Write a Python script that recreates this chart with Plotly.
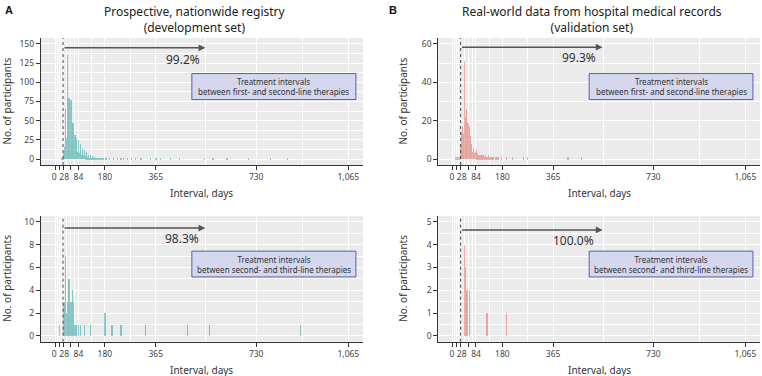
import plotly.graph_objects as go

# ---------------- data ----------------
# Panel A top: counts per day for days 20..160, plus sparse later days
a1_start_day = 20
a1_counts = [0, 1, 0, 1, 0, 1, 2, 2,            # 20-27
             4, 6, 8, 10, 12, 14, 16,           # 28-34
             65, 22, 20, 24, 21, 25, 27,        # 35-41
             135, 26, 24, 27, 23, 25, 26,       # 42-48
             80, 24, 22, 25, 21, 23, 28,        # 49-55
             77, 20, 19, 21, 18, 17, 22,        # 56-62
             47, 16, 15, 14, 16, 13, 18,        # 63-69
             32, 12, 11, 13, 10, 11, 14,        # 70-76
             27, 10, 9, 8, 9, 8, 11,            # 77-83
             25, 7, 8, 6, 7, 6, 9,              # 84-90
             20, 6, 5, 6, 5, 4, 7,              # 91-97
             15, 5, 4, 4, 3, 4, 5,              # 98-104
             12, 3, 3, 4, 2, 3, 4,              # 105-111
             9, 3, 2, 2, 3, 2, 3,               # 112-118
             6, 2, 2, 1, 2, 2, 2,               # 119-125
             5, 1, 2, 1, 1, 2, 1,               # 126-132
             4, 1, 1, 1, 2, 1, 1,               # 133-139
             3, 1, 1, 0, 1, 1, 2, 1, 1, 0, 1,   # 140-150
             1, 1, 0, 1, 0, 1, 1, 0, 1, 1]      # 151-160
a1_extra_days = [163, 168, 175, 182, 186, 196, 210, 224, 238, 247, 260, 275, 290,
                 310, 344, 365, 380, 417, 450, 541, 572, 623, 700, 780, 843]
a1_extra_counts = [1, 1, 1, 2, 1, 1, 1, 1, 1, 1, 1, 1, 1,
                   1, 1, 1, 1, 1, 1, 1, 1, 1, 1, 1, 1]

# Panel A bottom
a2_days = [13, 28, 29, 30, 31, 32, 33, 34, 35, 36, 37, 38, 39, 40, 41, 42, 43, 44, 45,
           46, 47, 48, 49, 50, 51, 52, 53, 54, 55, 56, 57, 58, 59, 60, 61, 62, 63, 64,
           65, 66, 67, 68, 70, 72, 76, 84, 90, 106, 127, 179, 203, 206, 238, 326, 479,
           559, 890]
a2_counts = [1, 1, 3, 3, 2, 3, 1, 1, 7, 3, 1, 1, 1, 2, 1, 3, 1, 1, 1,
             2, 1, 1, 5, 1, 1, 1, 1, 1, 3, 3, 1, 1, 2, 1, 1, 4, 3, 1,
             1, 3, 1, 1, 1, 1, 1, 1, 1, 1, 1, 2, 1, 1, 1, 1, 1,
             1, 1]

# Panel B top: counts per day for days 28..150, plus sparse other days
b1_start_day = 28
b1_counts = [2, 5, 8, 10, 9, 12, 14,            # 28-34
             17, 8, 10, 9, 11, 12, 13,          # 35-41
             51, 10, 8, 9, 22, 9, 11,           # 42-48
             14, 26, 8, 9, 7, 10, 8,            # 49-55
             19, 7, 6, 8, 7, 9, 17,             # 56-62
             12, 6, 5, 7, 4, 5, 6,              # 63-69
             8, 4, 3, 4, 3, 3, 4,               # 70-76
             6, 2, 3, 2, 2, 3, 2,               # 77-83
             4, 2, 5, 2, 1, 2, 2,               # 84-90
             3, 1, 2, 2, 1, 2, 1, 2, 2, 1,      # 91-100
             2, 1, 1, 2, 1, 1, 2, 1, 1, 0, 1, 1, 2, 1, 1, 0, 1, 1, 0, 2, 1, 1, 0, 1, 1,
             0, 1, 0, 1, 2, 1, 0, 1, 1, 0, 1, 0, 1, 0, 1, 1, 0, 1, 0, 0, 1, 0, 1, 0, 1]
b1_extra_days = [12, 20, 24, 26, 158, 165, 178, 197, 217, 258, 273, 420, 469]
b1_extra_counts = [1, 1, 1, 1, 1, 1, 1, 1, 1, 1, 1, 1, 1]

# Panel B bottom
b2_days = [42, 44, 45, 46, 47, 48, 49, 50, 52, 55, 61, 125, 195]
b2_counts = [4, 3, 3, 1, 3, 2, 2, 1, 2, 2, 2, 1, 1]

x_tickvals = [0, 14, 28, 56, 84, 180, 365, 730, 1065]
x_ticktext = ["0\u00a0", "", "\u00a028", "", "84", "180", "365", "730", "1,065"]
x_minor = [7, 21, 42, 70, 132, 272.5, 547.5, 897.5]

titles = ["Prospective, nationwide registry<br>(development set)",
          "Real-world data from hospital medical records<br>(validation set)"]
panel_letters = ["A", "B"]
percent_labels = ["99.2%", "98.3%", "99.3%", "100.0%"]
box_labels = ["Treatment intervals<br>between first- and second-line therapies",
              "Treatment intervals<br>between second- and third-line therapies"]
cutoff_day = 28
arrow_end_day = 545

# ---------------- figure ----------------
W, H = 762, 376
TEAL = "#1f9d9b"
RED = "#e0625a"
FONT = "Noto Sans, Liberation Sans, sans-serif"
TICKFONT = "Noto Sans, Liberation Sans, sans-serif"

a1_days = list(range(a1_start_day, a1_start_day + len(a1_counts))) + a1_extra_days
a1_all = a1_counts + a1_extra_counts
b1_days = list(range(b1_start_day, b1_start_day + len(b1_counts))) + b1_extra_days
b1_all = b1_counts + b1_extra_counts

panels = [
    dict(x=a1_days, y=a1_all, color=TEAL, xa="x", ya="y", xd=(40.7, 363.0), yd=(38, 165),
         yr=[-7.5, 157.5], yticks=[0, 25, 50, 75, 100, 125, 150], yminor=[12.5, 37.5, 62.5, 87.5, 112.5, 137.5],
         ay=144.7, px=463, py=130, pct=percent_labels[0], box=box_labels[0]),
    dict(x=a2_days, y=a2_counts, color=TEAL, xa="x2", ya="y2", xd=(40.7, 363.0), yd=(216, 341.7),
         yr=[-0.5, 10.5], yticks=[0, 2, 4, 6, 8, 10], yminor=[1, 3, 5, 7, 9],
         ay=9.45, px=461, py=8.5, pct=percent_labels[1], box=box_labels[1]),
    dict(x=b1_days, y=b1_all, color=RED, xa="x3", ya="y3", xd=(438.3, 760.0), yd=(38, 165),
         yr=[-3, 63], yticks=[0, 20, 40, 60], yminor=[10, 30, 50],
         ay=58.2, px=459, py=52.7, pct=percent_labels[2], box=box_labels[0]),
    dict(x=b2_days, y=b2_counts, color=RED, xa="x4", ya="y4", xd=(438.3, 760.0), yd=(216, 341.7),
         yr=[-0.25, 5.25], yticks=[0, 1, 2, 3, 4, 5], yminor=[0.5, 1.5, 2.5, 3.5, 4.5],
         ay=4.64, px=439, py=4.17, pct=percent_labels[3], box=box_labels[1]),
]

fig = go.Figure()
layout = dict(width=W, height=H, margin=dict(l=0, r=0, t=0, b=0),
              paper_bgcolor="white", plot_bgcolor="#ebebeb", showlegend=False,
              barmode="overlay", bargap=0,
              font=dict(family=FONT, color="#333333"))
annotations = []
shapes = []

for i, p in enumerate(panels):
    fig.add_trace(go.Bar(x=p["x"], y=p["y"], width=1, xaxis=p["xa"], yaxis=p["ya"],
                         marker=dict(color=p["color"], line=dict(width=0)), opacity=0.5,
                         hoverinfo="x+y"))
    xkey = "xaxis" + ("" if p["xa"] == "x" else p["xa"][1:])
    ykey = "yaxis" + ("" if p["ya"] == "y" else p["ya"][1:])
    layout[xkey] = dict(domain=[p["xd"][0] / W, p["xd"][1] / W], anchor=p["ya"],
                        range=[-53.25, 1118.25], tickmode="array", tickvals=x_tickvals,
                        ticktext=x_ticktext, tickangle=0, ticks="outside", ticklen=4,
                        tickcolor="#333333", tickwidth=1,
                        tickfont=dict(size=8.5, color="#444444", family=TICKFONT),
                        showline=True, linecolor="#333333", linewidth=1,
                        showgrid=True, gridcolor="white", gridwidth=1, zeroline=False,
                        minor=dict(tickvals=x_minor, showgrid=True, gridcolor="white",
                                   gridwidth=0.5, ticks=""))
    layout[ykey] = dict(domain=[1 - p["yd"][1] / H, 1 - p["yd"][0] / H], anchor=p["xa"],
                        range=p["yr"], tickmode="array", tickvals=p["yticks"],
                        ticks="outside", ticklen=4, tickcolor="#333333", tickwidth=1,
                        tickfont=dict(size=8.5, color="#444444", family=TICKFONT),
                        showline=True, linecolor="#333333", linewidth=1,
                        showgrid=True, gridcolor="white", gridwidth=1, zeroline=False,
                        minor=dict(tickvals=p["yminor"], showgrid=True, gridcolor="white",
                                   gridwidth=0.5, ticks=""))
    shapes.append(dict(type="line", xref=p["xa"], yref=p["ya"] + " domain",
                       x0=cutoff_day, x1=cutoff_day, y0=0, y1=1,
                       line=dict(color="#444444", width=1, dash="dot")))
    shapes.append(dict(type="rect", xref=p["xa"] + " domain", yref=p["ya"] + " domain",
                       x0=0.469, x1=0.978, y0=0.515, y1=0.72,
                       fillcolor="#d5d7ee", line=dict(color="#5b5fa8", width=1)))
    annotations.append(dict(xref=p["xa"] + " domain", yref=p["ya"] + " domain",
                            x=0.7235, y=0.6175, text=p["box"], showarrow=False,
                            xanchor="center", yanchor="middle",
                            font=dict(size=8, color="#333333", family=FONT), align="center"))
    annotations.append(dict(xref=p["xa"], yref=p["ya"], axref=p["xa"], ayref=p["ya"],
                            x=arrow_end_day, y=p["ay"], ax=cutoff_day, ay=p["ay"],
                            text="", showarrow=True, arrowhead=2, arrowsize=0.9,
                            arrowwidth=1.5, arrowcolor="#555555"))
    annotations.append(dict(xref=p["xa"], yref=p["ya"], x=p["px"], y=p["py"],
                            text=p["pct"], showarrow=False, xanchor="center", yanchor="middle",
                            font=dict(size=12, color="#333333", family=FONT)))
    xc = (p["xd"][0] + p["xd"][1]) / 2
    yc = (p["yd"][0] + p["yd"][1]) / 2
    annotations.append(dict(xref="paper", yref="paper", x=xc / W, y=1 - (p["yd"][1] + 28) / H,
                            text="Interval, days", showarrow=False,
                            xanchor="center", yanchor="middle",
                            font=dict(size=10, color="#333333", family=FONT)))
    ytx = 7 if p["xd"][0] < 300 else 403
    annotations.append(dict(xref="paper", yref="paper", x=ytx / W, y=1 - yc / H,
                            text="No. of participants", showarrow=False, textangle=-90,
                            xanchor="center", yanchor="middle",
                            font=dict(size=10, color="#333333", family=FONT)))

for j, (cx, lx) in enumerate([(195, 9), (592, 393)]):
    annotations.append(dict(xref="paper", yref="paper", x=cx / W, y=1 - 1 / H,
                            text=titles[j], showarrow=False, xanchor="center", yanchor="top",
                            font=dict(size=12, color="#222222", family=FONT)))
    annotations.append(dict(xref="paper", yref="paper", x=lx / W, y=1 - 10 / H,
                            text="<b>" + panel_letters[j] + "</b>", showarrow=False,
                            xanchor="center", yanchor="middle",
                            font=dict(size=11, color="#111111", family="Liberation Sans, sans-serif")))

layout["annotations"] = annotations
layout["shapes"] = shapes
fig.update_layout(**layout)
fig.write_html("out.html", config={"displayModeBar": False},
               post_script="document.body.style.margin='0';")
